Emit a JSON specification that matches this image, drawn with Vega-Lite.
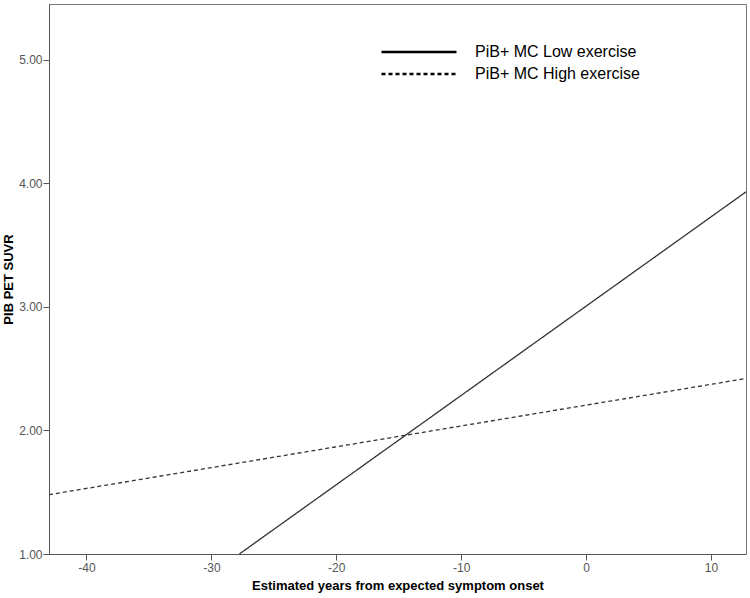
{
  "$schema": "https://vega.github.io/schema/vega-lite/v6.json",
  "width": 697,
  "height": 550,
  "autosize": "none",
  "padding": {"left": 49, "top": 4, "right": 4, "bottom": 44},
  "config": {
    "font": "Liberation Sans",
    "view": {"stroke": "#777", "strokeWidth": 1},
    "axis": {
      "grid": false,
      "domainColor": "#555",
      "tickColor": "#555",
      "tickSize": 6,
      "labelColor": "#555",
      "labelFontSize": 12,
      "labelFont": "Liberation Sans",
      "titleFont": "Liberation Sans",
      "titleFontSize": 13,
      "titleFontWeight": "bold",
      "titleColor": "#000"
    }
  },
  "data": {
    "values": [
      {"group": "PiB+ MC Low exercise", "x": -27.76, "y": 1.0},
      {"group": "PiB+ MC Low exercise", "x": 12.8, "y": 3.93},
      {"group": "PiB+ MC High exercise", "x": -43, "y": 1.48},
      {"group": "PiB+ MC High exercise", "x": 12.8, "y": 2.42}
    ]
  },
  "mark": {"type": "line", "strokeWidth": 1.3, "clip": true, "color": "#333"},
  "encoding": {
    "x": {
      "field": "x",
      "type": "quantitative",
      "scale": {"domain": [-43, 12.8], "nice": false, "zero": false},
      "axis": {"values": [-40, -30, -20, -10, 0, 10], "labelExpr": "toString(datum.value)", "title": "Estimated years from expected symptom onset", "titlePadding": 6, "labelPadding": 2}
    },
    "y": {
      "field": "y",
      "type": "quantitative",
      "scale": {"domain": [1, 5.45], "nice": false, "zero": false},
      "axis": {"values": [1, 2, 3, 4, 5], "format": ".2f", "title": "PIB PET SUVR", "titleX": -41, "titleBaseline": "middle", "labelPadding": 1}
    },
    "strokeDash": {
      "field": "group",
      "type": "nominal",
      "scale": {"domain": ["PiB+ MC Low exercise", "PiB+ MC High exercise"], "range": [[1, 0], [4, 3]]},
      "legend": {
        "title": null,
        "orient": "none",
        "legendX": 361,
        "legendY": 39,
        "symbolType": "M-5,0H5",
        "symbolSize": 225,
        "symbolStrokeWidth": 2.5,
        "symbolStrokeColor": "#000",
        "labelFontSize": 16,
        "labelColor": "#000",
        "labelOffset": 47,
        "labelLimit": 400,
        "rowPadding": 5,
        "encode": {
          "symbols": {
            "update": {
              "strokeDash": {"signal": "datum.label === 'PiB+ MC High exercise' ? [6, 3] : [1, 0]"}
            }
          }
        }
      }
    }
  }
}
